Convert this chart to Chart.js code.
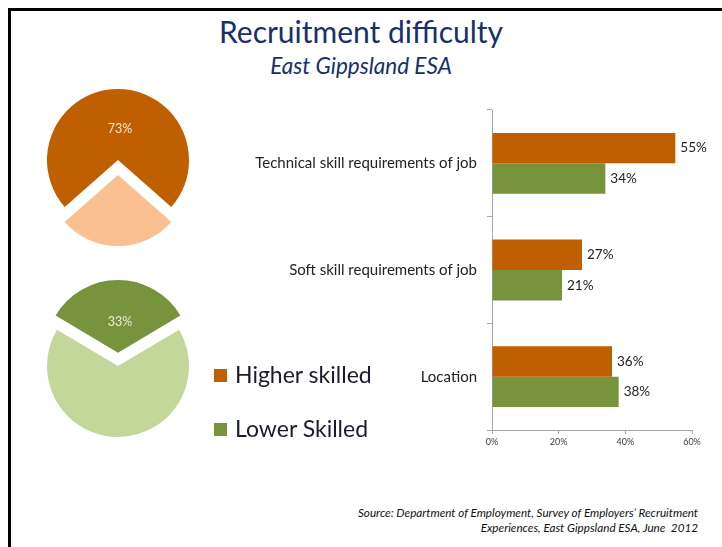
<!DOCTYPE html>
<html>
<head>
<meta charset="utf-8">
<script src="https://cdn.jsdelivr.net/npm/chart.js@4/dist/chart.umd.min.js"></script>
<style>
  body { margin: 0; width: 722px; height: 547px; background: #fff; position: relative; overflow: hidden; font-family: Lato, "Open Sans", sans-serif; }
  #frame { position: absolute; left: 8px; top: 8px; right: 0; bottom: 0; border-top: 3px solid #000; border-left: 3px solid #000; }
  #title { position: absolute; left: 0; width: 722px; top: 13px; text-align: center; color: #1a2f6b; font-size: 30px; }
  #subtitle { position: absolute; left: 0; width: 722px; top: 52px; text-align: center; color: #1a2f6b; font-size: 22.5px; font-style: italic; }
  .abs { position: absolute; }
  .leg { position: absolute; left: 214px; font-size: 23px; color: #1b1b2f; line-height: 26px; }
  .leg span { display: inline-block; width: 13px; height: 13px; margin-right: 8px; vertical-align: 1px; }
  #source { position: absolute; right: 24px; top: 505px; text-align: right; font-size: 11.7px; font-style: italic; color: #111; line-height: 15px; }
</style>
</head>
<body>
<div id="frame"></div>
<div id="title">Recruitment difficulty</div>
<div id="subtitle">East Gippsland ESA</div>
<canvas id="pieHigher" class="abs" width="200" height="200" style="left:18px;top:60px"></canvas>
<canvas id="pieLower" class="abs" width="200" height="200" style="left:18px;top:266px"></canvas>
<canvas id="barras" class="abs" width="482" height="360" style="left:240px;top:100px"></canvas>
<div class="leg" style="top:361px"><span style="background:#bf5f00"></span>Higher skilled</div>
<div class="leg" style="top:415px"><span style="background:#77933c"></span>Lower Skilled</div>
<div id="source">Source: Department of Employment, Survey of Employers’ Recruitment<br>Experiences, East Gippsland ESA, June&nbsp; 2012</div>
<script>
const categories = ["Technical skill requirements of job", "Soft skill requirements of job", "Location"];
const higherSkilled = [55, 27, 36];
const lowerSkilled = [34, 21, 38];
const xTicks = [0, 20, 40, 60];
const higherPie = [73, 27];
const lowerPie = [33, 67];

const fontFamily = "Lato, 'Open Sans', sans-serif";

// draws "NN%" next to bars / inside pie slices
const valueLabels = {
  id: "valueLabels",
  afterDatasetsDraw(chart, args, opts) {
    let c = chart.ctx;
    c.save();
    c.font = opts.size + "px " + fontFamily;
    c.fillStyle = opts.color;
    c.textBaseline = "middle";
    chart.data.datasets.forEach((ds, i) => {
      chart.getDatasetMeta(i).data.forEach((el, j) => {
        if (opts.only !== undefined && opts.only !== j) return;
        let text = ds.data[j] + "%";
        if (chart.config.type === "bar") {
          c.textAlign = "left";
          c.fillText(text, el.x + 5, el.y);
        } else {
          // arc is shifted by offset/4 when exploded
          let mid = (el.startAngle + el.endAngle) / 2;
          let r = el.outerRadius * 0.44 + (el.options.offset || 0) / 4;
          c.textAlign = "center";
          c.fillText(text, el.x + Math.cos(mid) * r + 2, el.y + Math.sin(mid) * r);
        }
      });
    });
    c.restore();
  },
};

function pie(id, values, colors, offsets, rotation) {
  let ctx = document.getElementById(id);
  new Chart(ctx, {
    type: "pie",
    data: {
      labels: ["a", "b"],
      datasets: [{ data: values, backgroundColor: colors, borderWidth: 0, offset: offsets }],
    },
    options: {
      responsive: false,
      animation: false,
      radius: 71,
      rotation: rotation,
      plugins: {
        legend: { display: false },
        tooltip: { enabled: false },
        valueLabels: { size: 12.5, color: "#f3e6da", only: 0 },
      },
    },
    plugins: [valueLabels],
  });
}

function barras() {
  let ctx = document.getElementById("barras");
  new Chart(ctx, {
    type: "bar",
    data: {
      labels: categories,
      datasets: [
        { label: "Higher skilled", data: higherSkilled, backgroundColor: "#bf5f00", barPercentage: 1, categoryPercentage: 0.57 },
        { label: "Lower Skilled", data: lowerSkilled, backgroundColor: "#77933c", barPercentage: 1, categoryPercentage: 0.57 },
      ],
    },
    options: {
      indexAxis: "y",
      responsive: false,
      animation: false,
      layout: { padding: { top: 10, right: 30, bottom: 10, left: 0 } },
      plugins: {
        legend: { display: false },
        tooltip: { enabled: false },
        valueLabels: { size: 13.5, color: "#222" },
      },
      scales: {
        x: {
          min: xTicks[0],
          max: xTicks[xTicks.length - 1],
          afterBuildTicks: (s) => { s.ticks = xTicks.map((v) => ({ value: v })); },
          ticks: { callback: (v) => v + "%", font: { size: 9, family: fontFamily }, color: "#404040", padding: 3 },
          grid: { drawOnChartArea: false, tickLength: 4, color: "#a6a6a6" },
          border: { color: "#a6a6a6" },
          afterFit: (s) => { s.height = 20; s.paddingLeft = 0; s.paddingRight = 0; },
        },
        y: {
          ticks: { font: { size: 15, family: fontFamily }, color: "#222", padding: 10 },
          grid: { drawOnChartArea: false, tickLength: 5, color: "#a6a6a6", offset: true },
          border: { color: "#a6a6a6" },
          afterFit: (s) => { s.width = 252; s.paddingTop = 0; s.paddingBottom = 0; },
        },
      },
    },
    plugins: [valueLabels],
  });
}

pie("pieHigher", higherPie, ["#bf5f00", "#fac090"], [0, 60], -131.4);
pie("pieLower", lowerPie, ["#77933c", "#c4d79b"], [53, 0], -59.4);
barras();
</script>
</body>
</html>
